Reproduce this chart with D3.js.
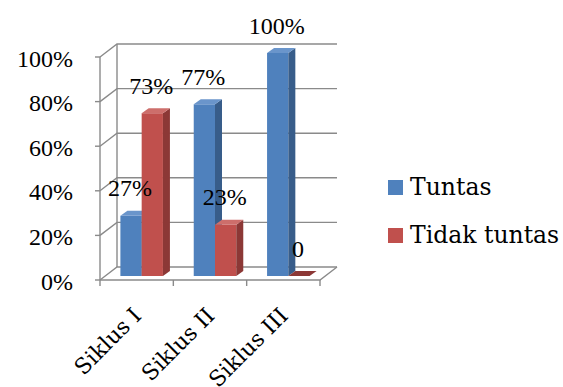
<!DOCTYPE html>
<html>
<head>
<meta charset="utf-8">
<script src="https://cdn.jsdelivr.net/npm/d3@7"></script>
<style>
  body { margin: 0; background: #fff; }
  text { fill: #000; }
  .num { font-family: "Liberation Serif", serif; font-size: 24px; }
  .word { font-family: "DejaVu Serif", serif; }
</style>
</head>
<body>
<div id="chart"></div>
<script>
// data
var categories = ["Siklus I", "Siklus II", "Siklus III"];
var seriesNames = ["Tuntas", "Tidak tuntas"];
var tuntas = [0.27, 0.77, 1.00];
var tidakTuntas = [0.73, 0.23, 0.00];
var tuntasLabels = ["27%", "77%", "100%"];
var tidakLabels = ["73%", "23%", "0"];
var yTicks = [0, 0.2, 0.4, 0.6, 0.8, 1.0];

var svgWidth = 563;
var svgHeight = 387;

// front face of the 3d box
var frontLeft = 100, frontRight = 320, frontBottom = 280, frontTop = 57;
// depth offsets
var wall = { dx: 17, dy: -13 };   // back wall
var plane = { dx: 5, dy: -4 };    // where the bars stand
var barDepth = { dx: 7, dy: -5 };

var colors = [
  { front: "#4F81BD", side: "#385D8A", top: "#6A95CB" },
  { front: "#C0504D", side: "#8C3836", top: "#CD6E6B" }
];
var gridColor = "#8a8a8a";

var svg = d3.select("#chart")
  .append("svg")
  .attr("width", svgWidth)
  .attr("height", svgHeight);

svg.append("rect").attr("width", svgWidth).attr("height", svgHeight).attr("fill", "#fff");

var x = d3.scaleBand()
  .domain(categories)
  .range([frontLeft, frontRight]);

var y = d3.scaleLinear()
  .domain([0, 1])
  .range([frontBottom, frontTop]);

var sub = d3.scaleBand()
  .domain(seriesNames)
  .range([0, x.bandwidth() * 0.58])
  .padding(0);

var grid = svg.append("g")
  .attr("stroke", gridColor)
  .attr("stroke-width", 1.4)
  .attr("fill", "none");

// gridlines: left wall diagonal + back wall horizontal
yTicks.forEach(function(t) {
  var yy = y(t);
  grid.append("path")
    .attr("d", `M${frontLeft},${yy} L${frontLeft + wall.dx},${yy + wall.dy} L${frontRight + wall.dx},${yy + wall.dy}`);
  // tick on the front axis
  grid.append("line")
    .attr("x1", frontLeft - 5).attr("x2", frontLeft)
    .attr("y1", yy).attr("y2", yy);
});

// back wall left edge, front axis
grid.append("line")
  .attr("x1", frontLeft + wall.dx).attr("x2", frontLeft + wall.dx)
  .attr("y1", y(0) + wall.dy).attr("y2", y(1) + wall.dy);
grid.append("line")
  .attr("x1", frontLeft).attr("x2", frontLeft)
  .attr("y1", y(0)).attr("y2", y(1));

// floor front edge and right edge
grid.append("path")
  .attr("d", `M${frontLeft},${y(0)} L${frontRight},${y(0)} L${frontRight + wall.dx},${y(0) + wall.dy}`);

// category ticks
var tickPos = categories.map(function(c) { return x(c); }).concat([frontRight]);
tickPos.forEach(function(px) {
  grid.append("line")
    .attr("x1", px).attr("x2", px)
    .attr("y1", y(0)).attr("y2", y(0) + 6);
});

// y axis labels
svg.append("g").selectAll("text")
  .data(yTicks)
  .enter()
  .append("text")
  .attr("class", "num")
  .attr("x", 73)
  .attr("y", function(d) { return y(d) + 1; })
  .attr("dy", "0.36em")
  .attr("text-anchor", "end")
  .text(function(d) { return Math.round(d * 100) + "%"; });

// bars
var seriesValues = [tuntas, tidakTuntas];
var seriesLabels = [tuntasLabels, tidakLabels];
var bars = svg.append("g");
var groupOffset = (x.bandwidth() - sub.range()[1]) / 2;

categories.forEach(function(c, i) {
  seriesNames.forEach(function(s, k) {
    var v = seriesValues[k][i];
    var x0 = x(c) + groupOffset + sub(s) + plane.dx;
    var w = sub.bandwidth();
    var base = y(0) + plane.dy;
    var top = y(v) + plane.dy;
    var col = colors[k];

    if (top < base) {
      bars.append("rect")
        .attr("x", x0).attr("y", top)
        .attr("width", w).attr("height", base - top)
        .attr("fill", col.front);
      bars.append("path")
        .attr("d", `M${x0 + w},${top} L${x0 + w + barDepth.dx},${top + barDepth.dy} L${x0 + w + barDepth.dx},${base + barDepth.dy} L${x0 + w},${base}Z`)
        .attr("fill", col.side);
    }
    bars.append("path")
      .attr("d", `M${x0},${top} L${x0 + barDepth.dx},${top + barDepth.dy} L${x0 + w + barDepth.dx},${top + barDepth.dy} L${x0 + w},${top}Z`)
      .attr("fill", v === 0 ? col.side : col.top);

    // value label
    svg.append("text")
      .attr("class", "num")
      .attr("x", x0 + w / 2 - 1)
      .attr("y", top - 19.5)
      .attr("text-anchor", "middle")
      .text(seriesLabels[k][i]);
  });
});

// category labels, rotated
svg.append("g").selectAll("text")
  .data(categories)
  .enter()
  .append("text")
  .attr("class", "word")
  .attr("text-anchor", "end")
  .attr("font-size", 22)
  .attr("transform", function(d) {
    var cx = x(d) + x.bandwidth() / 2 + 6;
    return `translate(${cx}, 317) rotate(-45)`;
  })
  .text(function(d) { return d; });

// legend
var legend = svg.append("g");
seriesNames.forEach(function(s, k) {
  var ly = 180 + k * 48;
  legend.append("rect")
    .attr("x", 388).attr("y", ly)
    .attr("width", 15).attr("height", 15)
    .attr("fill", colors[k].front);
  legend.append("text")
    .attr("class", "word")
    .attr("x", 410).attr("y", ly + 15)
    .attr("font-size", 23.5)
    .text(s);
});
</script>
</body>
</html>
